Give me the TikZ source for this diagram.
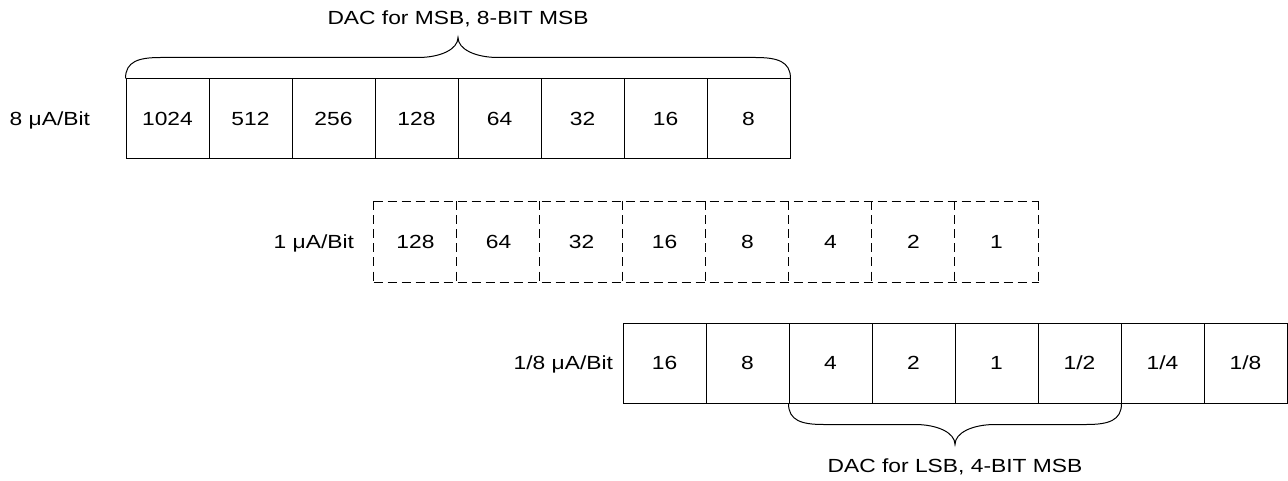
\documentclass[tikz,border=0pt]{standalone}
\usepackage{fontspec}
\setmainfont{Liberation Sans}[FakeStretch=1.2]
\usetikzlibrary{calc}
\begin{document}
\begin{tikzpicture}[x=1pt,y=-1pt,line width=1pt,
  txt/.style={inner sep=0pt,text height=13.6pt,text depth=0pt,font=\fontsize{19}{22}\selectfont},
  cell/.style={txt,minimum width=83pt,minimum height=80pt},
  box/.style={cell,draw},
  dashline/.style={line width=1.2pt,dash pattern=on 9pt off 5pt}]
\useasboundingbox (0,0) rectangle (1288,481);
% top row
\foreach \v [count=\i] in {1024,512,256,128,64,32,16,8}
  \node[box] (t\i) at ({126+83*(\i-1)+41.5},119) {\v};
% middle row (dashed)
\foreach \v [count=\i] in {128,64,32,16,8,4,2,1}
  \node[cell] (m\i) at ({374+83*(\i-1)+41.5},242) {\v};
\draw[dashline] (m1.north west) -- (m8.north east);
\draw[dashline] (m1.south west) -- (m8.south east);
\foreach \i in {1,...,8}
  \draw[dashline] (m\i.north west) -- (m\i.south west);
\draw[dashline] (m8.north east) -- (m8.south east);
% bottom row
\foreach \v [count=\i] in {16,8,4,2,1,1/2,1/4,1/8}
  \node[box] (b\i) at ({623+83*(\i-1)+41.5},363) {\v};
% row labels
\node[txt,anchor=east] (l1) at ($(t1.west)+(-35,0)$) {8 μA/Bit};
\node[txt,anchor=east] (l2) at ($(m1.west)+(-19,0)$) {1 μA/Bit};
\node[txt,anchor=east] (l3) at ($(b1.west)+(-9,0)$) {1/8 μA/Bit};
% top brace
\draw (t1.north west) .. controls +(0,-17) and +(-22,0) .. ++(35,-21)
  -- ($(t1.north west)!.5!(t8.north east)+(-40,-21)$)
  .. controls +(22,0) and +(0,12) .. ++(40,-20)
  .. controls +(0,12) and +(-22,0) .. ++(40,20)
  -- ($(t8.north east)+(-35,-21)$)
  .. controls +(22,0) and +(0,-17) .. (t8.north east);
\node[txt,anchor=base] (ttop) at ($(t1.north west)!.5!(t8.north east)+(0,-54)$) {DAC for MSB, 8-BIT MSB};
% bottom brace
\draw (b3.south west) .. controls +(0,17) and +(-22,0) .. ++(35,21)
  -- ($(b3.south west)!.5!(b6.south east)+(-40,21)$)
  .. controls +(22,0) and +(0,-12) .. ++(40,20)
  .. controls +(0,-12) and +(-22,0) .. ++(40,-20)
  -- ($(b6.south east)+(-35,21)$)
  .. controls +(22,0) and +(0,17) .. (b6.south east);
\node[txt,anchor=base] (tbot) at ($(b3.south west)!.5!(b6.south east)+(0,69)$) {DAC for LSB, 4-BIT MSB};
\end{tikzpicture}
\end{document}
